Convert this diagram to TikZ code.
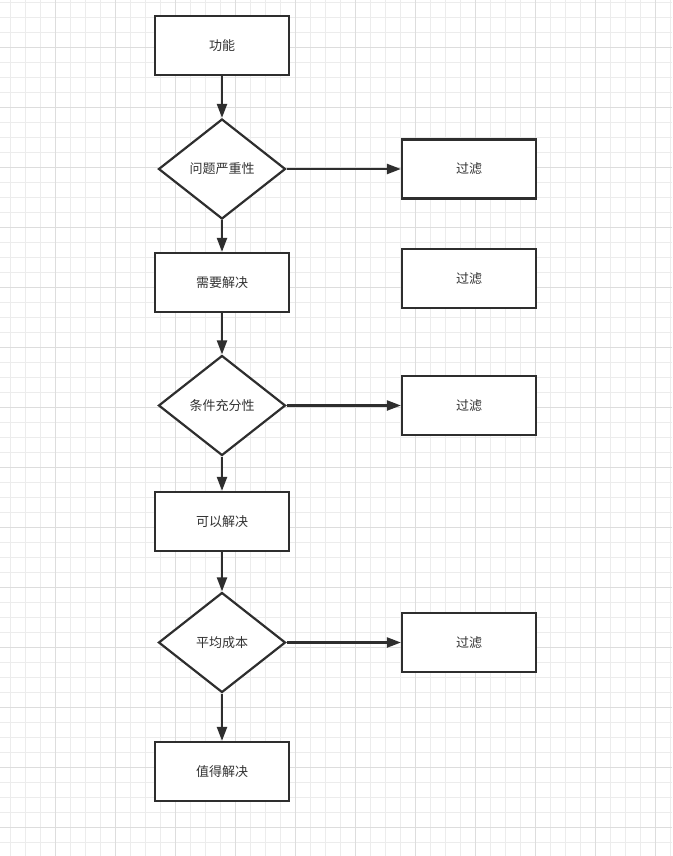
\documentclass[tikz,border=0pt]{standalone}
\usepackage{fontspec}
\setmainfont{Noto Sans CJK SC}
\usetikzlibrary{shapes.geometric,arrows.meta}
\definecolor{minorgrid}{HTML}{ECECEC}
\definecolor{majorgrid}{HTML}{DDDDDD}
\definecolor{ink}{HTML}{2E2E2E}
\definecolor{txt}{HTML}{333333}
\tikzset{
  stepbox/.style={draw=ink, line width=2.2pt, fill=white, minimum width=134pt, minimum height=59pt, inner sep=0pt, text=txt, font=\fontsize{13pt}{15pt}\selectfont},
  decision/.style={draw=ink, line width=2.2pt, fill=white, diamond, aspect=1.27, minimum width=127pt, minimum height=100pt, inner sep=0pt, text=txt, font=\fontsize{13pt}{15pt}\selectfont},
  link/.style={draw=ink, line width=2.2pt, -{Triangle[length=14pt,width=10pt]}}
}
\begin{document}
\begin{tikzpicture}[x=1pt,y=-1pt]
\useasboundingbox (0,0) rectangle (672,856);
\fill[white] (0,0) rectangle (672,856);
% grid
\foreach \i in {0,...,44} {\draw[minorgrid, line width=0.8pt] (10+15*\i,0) -- (10+15*\i,856);}
\foreach \i in {0,...,57} {\draw[minorgrid, line width=0.8pt] (0,2+15*\i) -- (672,2+15*\i);}
\foreach \i in {0,...,10} {\draw[majorgrid, line width=0.9pt] (55+60*\i,0) -- (55+60*\i,856);}
\foreach \i in {0,...,13} {\draw[majorgrid, line width=0.9pt] (0,47+60*\i) -- (672,47+60*\i);}
% nodes
\node[stepbox] (gn) at (222,45.5) {功能};
\node[decision] (d1) at (222,169) {问题严重性};
\node[stepbox] (f1) at (469,169) {过滤};
\node[stepbox] (xy) at (222,282.5) {需要解决};
\node[stepbox] (f2) at (469,278.5) {过滤};
\node[decision] (d2) at (222,405.5) {条件充分性};
\node[stepbox] (f3) at (469,405.5) {过滤};
\node[stepbox] (ky) at (222,521.5) {可以解决};
\node[decision] (d3) at (222,642.5) {平均成本};
\node[stepbox] (f4) at (469,642.5) {过滤};
\node[stepbox] (zd) at (222,771.5) {值得解决};
% links
\draw[link] (gn.south) -- (d1.north);
\draw[link] (d1.east) -- (f1.west);
\draw[link] (d1.south) -- (xy.north);
\draw[link] (xy.south) -- (d2.north);
\draw[link] (d2.east) -- (f3.west);
\draw[link] (d2.south) -- (ky.north);
\draw[link] (ky.south) -- (d3.north);
\draw[link] (d3.east) -- (f4.west);
\draw[link] (d3.south) -- (zd.north);
\end{tikzpicture}
\end{document}
